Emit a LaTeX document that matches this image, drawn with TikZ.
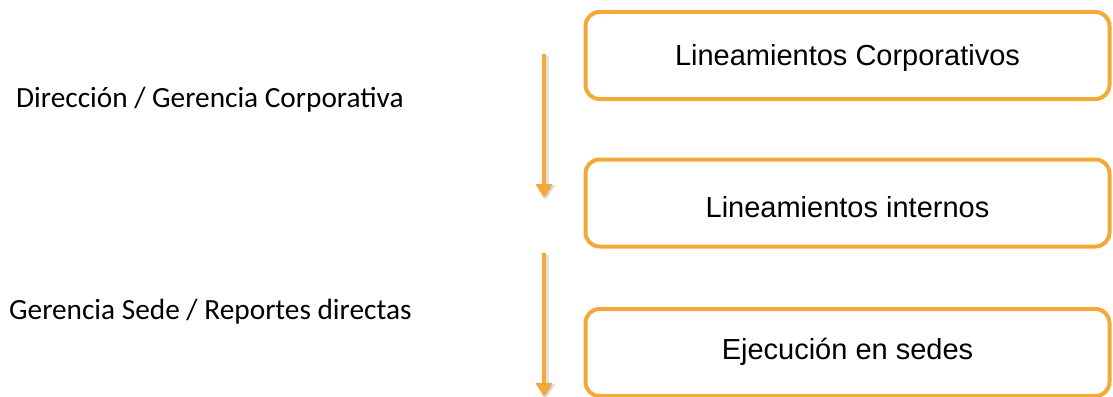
\documentclass[tikz,border=0pt]{standalone}
\usepackage{fontspec}
\setmainfont{Liberation Sans}
\newfontfamily\lefttext{Carlito}
\usetikzlibrary{arrows.meta}
\definecolor{accent}{RGB}{242,169,55}
\tikzset{
  levelbox/.style={draw=accent, line width=4pt, rounded corners=14pt, fill=white,
    minimum width=524pt, minimum height=87pt, inner sep=0pt},
  boxtext/.style={font=\fontsize{29}{33}\selectfont, text=black},
  leveltext/.style={font=\lefttext\fontsize{29.3}{33}\selectfont, text=black, anchor=west, inner sep=0pt},
  flow/.style={draw=accent, line width=4pt, -{Triangle[width=16pt,length=14pt]}},
  flowshadow/.style={draw=black, opacity=0.12, line width=5pt, -{Triangle[width=18pt,length=15pt]}}
}
\begin{document}
\begin{tikzpicture}[x=1pt,y=-1pt]
\useasboundingbox (0,0) rectangle (1113,396);

% level boxes
\node[levelbox] (b1) at (847.5,55.5) {};
\node[levelbox] (b2) at (847.5,203) {};
\node[levelbox] (b3) at (847.5,352.5) {};
\node[boxtext] (t1) at ([yshift=-3pt]b1.center) {Lineamientos Corporativos};
\node[boxtext] (t2) at ([yshift=-4pt]b2.center) {Lineamientos internos};
\node[boxtext] (t3) at ([yshift=1pt]b3.center) {Ejecución en sedes};

% hierarchy labels
\node[leveltext] (l1) at (16,100) {Dirección / Gerencia Corporativa};
\node[leveltext] (l2) at (9,312) {Gerencia Sede / Reportes directas};

% downward flow arrows
\coordinate (a1s) at (544,54);
\coordinate (a1e) at (544,198);
\coordinate (a2s) at (544,253);
\coordinate (a2e) at (544,397);
\draw[flowshadow] ([xshift=2pt,yshift=-2pt]a1s) -- ([xshift=2pt,yshift=-2pt]a1e);
\draw[flowshadow] ([xshift=2pt,yshift=-2pt]a2s) -- ([xshift=2pt,yshift=-2pt]a2e);
\draw[flow] (a1s) -- (a1e);
\draw[flow] (a2s) -- (a2e);
\end{tikzpicture}
\end{document}
